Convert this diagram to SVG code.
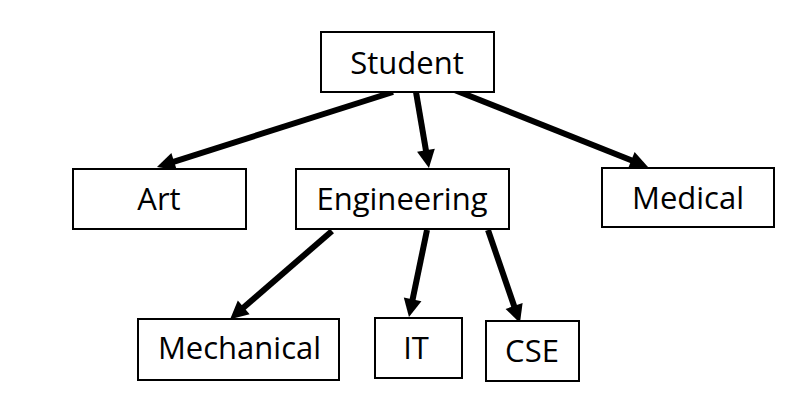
<svg xmlns="http://www.w3.org/2000/svg" width="793" height="406" viewBox="0 0 793 406">
<style>
.box{fill:#fff;stroke:#000;stroke-width:2}
.lbl{font-family:"Open Sans","Liberation Sans",sans-serif;font-size:31px;fill:#000;text-anchor:middle}
.arrow{stroke:#000;stroke-width:6;fill:none;marker-end:url(#ah)}
</style>
<defs>
<marker id="ah" markerUnits="userSpaceOnUse" markerWidth="18" markerHeight="18" refX="4" refY="9" orient="auto" overflow="visible">
<path d="M0,0 L18,9 L0,18 z" fill="#000"/>
</marker>
</defs>
<rect width="793" height="406" fill="#fff"/>
<g id="connectors">
<line class="arrow" x1="393" y1="92" x2="170.3" y2="162.8"/>
<line class="arrow" x1="416" y1="92" x2="426.6" y2="154.2"/>
<line class="arrow" x1="452" y1="89" x2="635" y2="161.8"/>
<line class="arrow" x1="332" y1="231" x2="240.7" y2="310"/>
<line class="arrow" x1="427" y1="230" x2="411.8" y2="303.3"/>
<line class="arrow" x1="488" y1="230" x2="515.4" y2="309.8"/>
</g>
<g id="student"><rect class="box" x="321" y="32" width="173" height="60"/><text class="lbl" x="407" y="74">Student</text></g>
<g id="art"><rect class="box" x="73" y="169" width="173" height="60"/><text class="lbl" x="159" y="210">Art</text></g>
<g id="engineering"><rect class="box" x="296" y="169" width="213" height="60"/><text class="lbl" x="402" y="210">Engineering</text></g>
<g id="medical"><rect class="box" x="602" y="168" width="172" height="59"/><text class="lbl" x="688" y="209">Medical</text></g>
<g id="mechanical"><rect class="box" x="138" y="319" width="201" height="61"/><text class="lbl" x="239.5" y="359">Mechanical</text></g>
<g id="it"><rect class="box" x="375" y="318" width="87" height="60"/><text class="lbl" x="416" y="359">IT</text></g>
<g id="cse"><rect class="box" x="486" y="321" width="93" height="60"/><text class="lbl" x="532" y="362">CSE</text></g>
</svg>
